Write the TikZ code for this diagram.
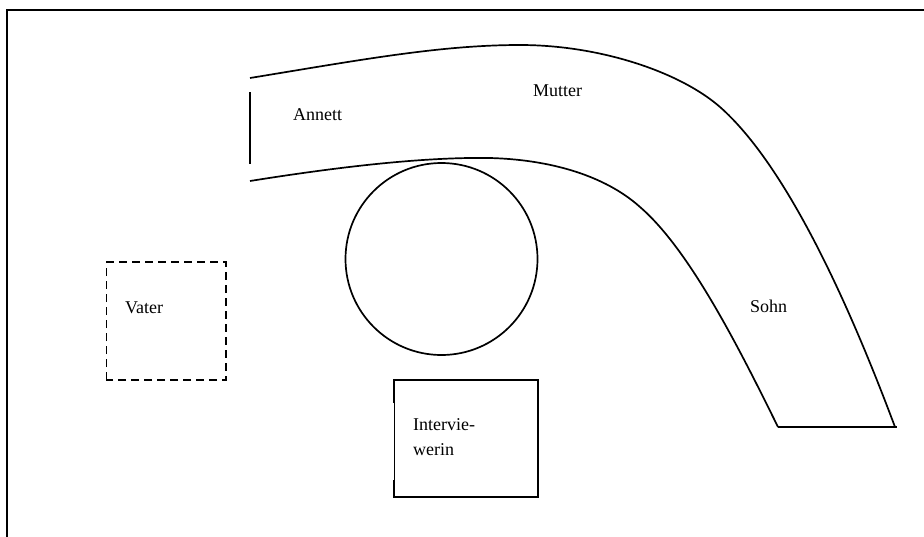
\documentclass[tikz,border=0pt]{standalone}
\usepackage{fontspec}
\setmainfont{Liberation Serif}
\begin{document}
\begin{tikzpicture}[x=1pt,y=-1pt,
  frameline/.style={line width=2.6pt},
  shapeline/.style={line width=1.7pt},
  thinline/.style={line width=0.7pt},
  dashbox/.style={line width=1.7pt,dash pattern=on 8pt off 5pt},
  thindash/.style={line width=0.9pt,dash pattern=on 8pt off 5pt},
  lbl/.style={anchor=base west,inner sep=0pt,font=\fontsize{18}{21}\selectfont}]
\useasboundingbox (0,0) rectangle (924,536);
% frame
\coordinate (f1) at (7,545);
\coordinate (f2) at (7,10);
\coordinate (f3) at (935,10);
\draw[frameline] (f1) -- (f2) -- (f3);
% band (Mutter / Sohn)
\draw[shapeline] (250,78) .. controls (360,60) and (440,45) .. (520,45)
  .. controls (600,45) and (680,72) .. (720,107)
  .. controls (780,160) and (840,280) .. (895,427);
\draw[shapeline] (250,181) .. controls (350,165) and (430,157) .. (490,158)
  .. controls (560,160) and (610,180) .. (640,207)
  .. controls (690,250) and (740,350) .. (778,427);
\draw[shapeline] (778,427) -- (897,427);
\draw[shapeline] (250,92) -- (250,164);
% table
\node[draw,circle,shapeline,minimum size=192pt,inner sep=0pt] (tisch) at (441.5,259) {};
% Vater
\draw[dashbox] (106,262) -- (226,262) -- (226,380) -- (106,380);
\draw[thindash] (106,380) -- (106,262);
% Interviewerin
\draw[shapeline] (394,403) -- (394,380) -- (538,380) -- (538,497) -- (394,497) -- (394,480);
\draw[thinline] (394,403) -- (394,480);
% labels
\node[lbl] (annett) at (293,120) {Annett};
\node[lbl] (mutter) at (533,96) {Mutter};
\node[lbl] (sohn) at (750,312) {Sohn};
\node[lbl] (vater) at (125,313) {Vater};
\node[lbl] (interv1) at (413,430) {Intervie-};
\node[lbl] (interv2) at (413,455) {werin};
\end{tikzpicture}
\end{document}
